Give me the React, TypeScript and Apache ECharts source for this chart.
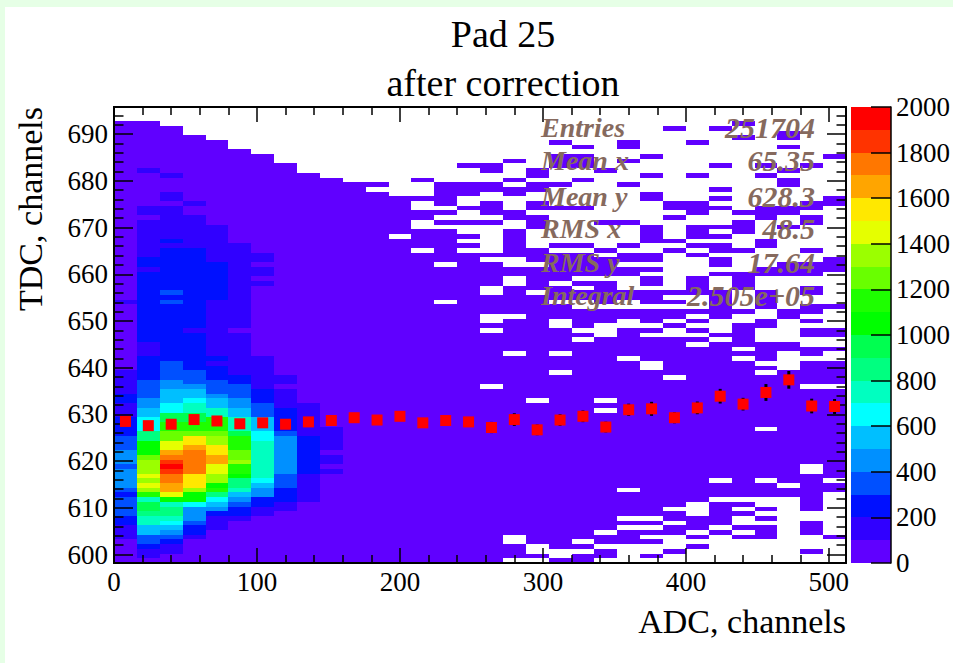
import React, { useEffect, useRef } from "react";
import * as echarts from "echarts";

// ---------- axis tick values ----------
const xMajor = [0, 100, 200, 300, 400, 500];
const xMinor = [20, 40, 60, 80, 120, 140, 160, 180, 220, 240, 260, 280, 320, 340, 360, 380, 420, 440, 460, 480];
const yMajor = [600, 610, 620, 630, 640, 650, 660, 670, 680, 690];
const yMinor = [602, 604, 606, 608, 612, 614, 616, 618, 622, 624, 626, 628, 632, 634, 636, 638, 642, 644, 646, 648, 652, 654, 656, 658, 662, 664, 666, 668, 672, 674, 676, 678, 682, 684, 686, 688, 692, 694];
const zMajor = [0, 200, 400, 600, 800, 1000, 1200, 1400, 1600, 1800, 2000];

const xMin = 0, xMax = 512, xBinWidth = 16;
const yMin = 598.2, yMax = 695.8, rowCount = 97;
const zStep = 100;

// ROOT palette, one colour per 100 counts
const palette = ["#6000ff", "#3000ff", "#0010ff", "#0050ff", "#0090ff", "#00bfff", "#00ffff", "#00ffc0", "#00ff80", "#00ff50", "#00ff00", "#1eff00", "#69ff00", "#9bff00", "#e5ff00", "#ffe800", "#ffa500", "#ff7700", "#ff3300", "#ff0000"];

// ---------- low ADC columns: [rowEnd, counts] steps from row 0 upward ----------
const denseColumns: number[][][] = [
  [[5,30],[8,150],[10,250],[14,350],[15,250],[16,350],[20,450],[21,350],[24,450],[27,350],[31,250],[34,150],[36,250],[41,150],[55,30],[56,150],[94,30]],
  [[1,30],[3,150],[4,250],[6,350],[8,550],[10,750],[11,850],[13,950],[14,750],[15,1150],[16,1350],[17,1450],[18,1350],[19,1450],[22,1350],[23,1250],[26,1050],[28,850],[31,650],[33,550],[35,450],[39,350],[44,250],[47,150],[62,250],[63,150],[65,250],[73,150],[74,30],[76,150],[83,30],[84,150],[94,30]],
  [[2,30],[4,150],[5,250],[6,350],[7,450],[8,550],[9,650],[10,750],[12,850],[13,750],[14,1050],[15,1450],[17,1650],[19,1750],[20,1850],[21,1950],[22,1850],[23,1750],[24,1650],[26,1450],[28,1250],[30,1150],[32,950],[34,650],[37,550],[39,450],[43,350],[55,250],[56,350],[57,250],[58,350],[67,250],[68,150],[69,250],[76,150],[77,30],[79,150],[82,30],[83,150],[93,30]],
  [[5,30],[6,150],[8,250],[9,350],[12,450],[13,650],[15,1050],[16,1350],[19,1550],[24,1750],[25,1650],[27,1550],[28,1250],[30,1150],[32,950],[34,750],[35,650],[37,550],[38,450],[41,350],[49,250],[50,150],[67,250],[74,150],[76,30],[77,150],[91,30]],
  [[7,30],[10,150],[11,250],[12,450],[13,550],[14,650],[15,850],[16,1150],[17,1050],[19,1350],[21,1450],[23,1650],[25,1550],[27,1350],[28,1250],[31,1150],[33,750],[35,550],[36,450],[39,350],[42,250],[43,150],[44,250],[56,150],[64,250],[72,150],[90,30]],
  [[9,30],[10,150],[12,250],[13,350],[14,450],[15,550],[16,750],[18,850],[19,1050],[21,1150],[22,1350],[24,1250],[27,1150],[28,950],[31,750],[33,550],[35,450],[38,350],[40,250],[49,150],[50,30],[68,150],[88,30]],
  [[10,30],[12,150],[14,250],[16,450],[17,550],[18,650],[26,750],[28,650],[31,550],[34,350],[37,250],[44,150],[59,30],[60,150],[61,30],[63,150],[64,30],[66,150],[87,30]],
  [[11,30],[13,150],[16,250],[19,350],[27,450],[28,350],[33,250],[37,150],[38,30],[40,150],[85,30]],
  [[13,30],[19,150],[27,250],[34,150],[83,30]],
  [[19,30],[20,150],[21,30],[23,150],[24,30],[29,150],[82,30]],
  [[81,30]],
];

// ---------- high ADC columns: filled row spans [from, to), all in the lowest bin ----------
const sparseCounts = 20;
const sparseColumns: number[][][] = [
  [[0,79],[80,81]],
  [[0,69],[70,78]],
  [[0,66],[67,71],[73,75],[77,78],[81,82]],
  [[0,55],[56,63],[64,71],[72,73],[74,75],[76,81]],
  [[0,66],[67,68],[69,70],[72,73],[75,76],[78,81],[84,85]],
  [[0,37],[38,49],[50,51],[53,57],[59,64],[65,66],[72,73],[74,77],[79,81],[83,85]],
  [[1,4],[6,44],[45,52],[53,59],[61,63],[65,71],[73,75],[78,80],[81,82],[85,86]],
  [[1,2],[4,34],[35,57],[58,63],[64,67],[71,74],[75,77],[79,81],[82,84]],
  [[0,1],[3,40],[41,44],[45,50],[52,55],[56,59],[60,66],[67,68],[75,76],[80,81],[84,87],[89,90]],
  [[0,2],[3,4],[5,47],[48,49],[50,54],[56,58],[59,60],[61,66],[67,68],[75,76],[81,82],[84,87],[88,89]],
  [[1,3],[4,6],[7,32],[33,34],[35,48],[51,54],[55,60],[61,65],[66,67],[72,73],[83,84]],
  [[4,7],[8,9],[10,15],[16,43],[44,50],[52,54],[56,58],[61,63],[64,66],[67,68],[72,73],[80,81],[85,86],[88,90]],
  [[1,2],[4,5],[6,7],[8,9],[10,41],[43,48],[49,50],[51,54],[55,58],[59,61],[62,63],[64,66],[68,72],[77,79],[82,83],[86,87]],
  [[2,3],[6,8],[9,11],[12,39],[40,48],[50,51],[52,54],[55,56],[57,58],[66,67],[68,69],[73,74],[75,77],[92,93]],
  [[3,4],[5,6],[7,10],[13,46],[47,48],[49,50],[51,52],[53,54],[57,61],[65,66],[67,68],[69,72],[74,77],[82,83],[89,90]],
  [[6,7],[8,13],[14,17],[18,47],[48,49],[52,58],[61,62],[63,65],[66,68],[69,70],[71,72],[75,76],[77,78],[79,80],[84,85],[92,93]],
  [[5,6],[7,8],[10,11],[12,13],[14,43],[44,45],[46,49],[49,51],[53,54],[58,62],[66,67],[70,73],[74,75],[90,91],[93,94]],
  [[5,8],[9,10],[11,12],[14,17],[18,28],[29,40],[41,42],[43,47],[50,52],[54,58],[61,63],[67,69],[73,76],[82,83],[84,85]],
  [[14,16],[17,41],[45,47],[52,54],[61,64],[71,72],[74,76],[80,82],[83,84],[88,89],[90,92]],
  [[2,3],[6,9],[11,19],[21,37],[38,43],[44,46],[48,50],[51,52],[53,55],[57,59],[61,64],[66,67],[72,74],[75,77],[84,85]],
  [[5,6],[15,17],[18,37],[38,43],[45,46],[48,50],[54,55],[62,65],[76,78],[86,87]],
];

// ---------- profile (red points) ----------
const profileMean = [628.5, 627.6, 627.9, 628.9, 628.6, 628.0, 628.2, 627.9, 628.4, 628.7, 629.3, 628.8, 629.6, 628.2, 628.7, 628.4, 627.2, 628.9, 626.7, 628.8, 629.6, 627.3, 631.0, 631.2, 629.3, 631.4, 633.9, 632.2, 634.7, 637.4, 631.8, 631.7];
const profileError = [0.1, 0.1, 0.1, 0.1, 0.1, 0.1, 0.2, 0.2, 0.3, 0.4, 0.5, 0.6, 0.7, 0.7, 0.9, 1.0, 1.2, 1.35, 1.15, 1.25, 1.25, 1.15, 1.3, 1.5, 1.2, 1.35, 1.57, 1.35, 1.8, 1.9, 1.57, 1.6];

// ---------- stats box ----------
const statNames = ["Entries", "Mean x", "Mean y", "RMS x", "RMS y", "Integral"];
const statValues = ["251704", "65.35", "628.3", "48.5", "17.64", "2.505e+05"];

const SERIF = "'Liberation Serif', serif";
const rowEdge = (r: number) => yMin + (r * (yMax - yMin)) / rowCount;

function buildCells() {
  const cells: number[][] = [];
  denseColumns.forEach((steps, c) => {
    let from = 0;
    steps.forEach(([to, counts]) => {
      cells.push([c * xBinWidth, rowEdge(from), (c + 1) * xBinWidth, rowEdge(to), counts]);
      from = to;
    });
  });
  sparseColumns.forEach((spans, i) => {
    const c = i + denseColumns.length;
    spans.forEach(([from, to]) => {
      cells.push([c * xBinWidth, rowEdge(from), (c + 1) * xBinWidth, rowEdge(to), sparseCounts]);
    });
  });
  return cells;
}

function rectFromCorners(api: any, color: string) {
  const a = api.coord([api.value(0), api.value(1)]);
  const b = api.coord([api.value(2), api.value(3)]);
  const x = Math.round(a[0]), y = Math.round(b[1]);
  return {
    type: "rect",
    shape: { x, y, width: Math.round(b[0]) - x, height: Math.round(a[1]) - y },
    style: { fill: color },
  };
}

export default function App() {
  const ref = useRef<HTMLDivElement>(null);
  useEffect(() => {
    document.body.style.margin = "0";
    const chart = echarts.init(ref.current!, null, { renderer: "svg" });
    const centers = profileMean.map((_, c) => (c + 0.5) * xBinWidth);
    const line = { show: true, onZero: false, lineStyle: { color: "#000", width: 2 } };
    const tickAxis = (position: string, values: number[], length: number, min: number, max: number) => ({
      type: "value", position, min, max, z: 10,
      axisLine: line,
      axisTick: { show: true, inside: true, length, customValues: values, lineStyle: { color: "#000", width: 1.5 } },
      axisLabel: { show: false },
      splitLine: { show: false },
    });
    const labels = (values: number[], margin: number) => ({
      show: true, customValues: values, margin, fontFamily: SERIF, fontSize: 27, color: "#000",
      formatter: (v: number) => String(v),
    });
    const graphicTexts: any[] = [];
    statNames.forEach((name, i) => {
      const y = [127, 160, 196, 228, 262, 295][i];
      const style = { fontFamily: SERIF, fontStyle: "italic", fontWeight: "bold", fill: "#866a5e", verticalAlign: "middle" };
      graphicTexts.push({ type: "text", x: 541, y, z: 40, style: { ...style, fontSize: 28, text: name, align: "left" } });
      graphicTexts.push({ type: "text", x: 815, y, z: 40, style: { ...style, fontSize: 30, text: statValues[i], align: "right" } });
    });
    chart.setOption({
      animation: false,
      backgroundColor: "#ffffff",
      title: {
        text: "Pad 25\nafter correction", left: 498, top: 4, textAlign: "center",
        textStyle: { fontFamily: SERIF, fontWeight: "normal", fontSize: 38, color: "#000", lineHeight: 49 },
      },
      grid: [
        { left: 114, top: 107, width: 732, height: 456 },
        { left: 851, top: 107, width: 42, height: 456 },
      ],
      xAxis: [
        { ...tickAxis("bottom", xMajor, 15, xMin, xMax), axisLabel: labels(xMajor, 5), name: "ADC, channels", nameLocation: "end", nameGap: 0, nameTextStyle: { fontFamily: SERIF, fontSize: 34, color: "#000", align: "right", verticalAlign: "top", padding: [41, 0, 0, 0] } },
        tickAxis("top", xMajor, 15, xMin, xMax),
        tickAxis("bottom", xMinor, 8, xMin, xMax),
        tickAxis("top", xMinor, 8, xMin, xMax),
        { type: "value", gridIndex: 1, min: 0, max: 1, show: false },
      ],
      yAxis: [
        { ...tickAxis("left", yMajor, 19, yMin, yMax), axisLabel: labels(yMajor, 6), name: "TDC, channels", nameLocation: "end", nameRotate: 90, nameGap: 0, nameTextStyle: { fontFamily: SERIF, fontSize: 34, color: "#000", align: "right", verticalAlign: "bottom", padding: [0, 0, 67, 0] } },
        tickAxis("right", yMajor, 19, yMin, yMax),
        tickAxis("left", yMinor, 9.5, yMin, yMax),
        tickAxis("right", yMinor, 9.5, yMin, yMax),
        {
          type: "value", gridIndex: 1, position: "right", min: 0, max: 2000, z: 10,
          axisLine: { show: true, onZero: false, lineStyle: { color: "#000", width: 1.5 } },
          axisTick: { show: true, inside: true, length: 20, customValues: zMajor, lineStyle: { color: "#000", width: 1.5 } },
          axisLabel: labels(zMajor, 5),
          splitLine: { show: false },
        },
      ],
      series: [
        {
          type: "custom", name: "counts", xAxisIndex: 0, yAxisIndex: 0, z: 2, clip: true,
          data: buildCells(),
          renderItem: (_: any, api: any) => {
            const level = Math.min(palette.length - 1, Math.floor(api.value(4) / zStep));
            return rectFromCorners(api, palette[level]);
          },
        },
        {
          type: "custom", name: "errors", xAxisIndex: 0, yAxisIndex: 0, z: 20,
          data: centers.map((x, c) => [x, profileMean[c] - profileError[c], profileMean[c] + profileError[c]]),
          renderItem: (_: any, api: any) => {
            const a = api.coord([api.value(0), api.value(1)]);
            const b = api.coord([api.value(0), api.value(2)]);
            return { type: "line", shape: { x1: a[0], y1: a[1], x2: b[0], y2: b[1] }, style: { stroke: "#000", lineWidth: 3 } };
          },
        },
        {
          type: "scatter", name: "profile", xAxisIndex: 0, yAxisIndex: 0, z: 21,
          symbol: "rect", symbolSize: 11, itemStyle: { color: "#ff0000", opacity: 1 },
          data: centers.map((x, c) => [x, profileMean[c]]),
        },
        {
          type: "custom", name: "palette", xAxisIndex: 4, yAxisIndex: 4, z: 2,
          data: palette.map((_, i) => [0, i * zStep, 1, (i + 1) * zStep, i]),
          renderItem: (_: any, api: any) => rectFromCorners(api, palette[api.value(4)]),
        },
      ],
      graphic: [
        { type: "rect", x: 0, y: 0, z: -10, shape: { width: 953, height: 7 }, style: { fill: "#e6ffe6" } },
        { type: "rect", x: 0, y: 0, z: -10, shape: { width: 5, height: 663 }, style: { fill: "#e6ffe6" } },
        ...graphicTexts,
      ],
    });
    return () => chart.dispose();
  }, []);
  return <div ref={ref} style={{ width: 953, height: 663 }} />;
}
